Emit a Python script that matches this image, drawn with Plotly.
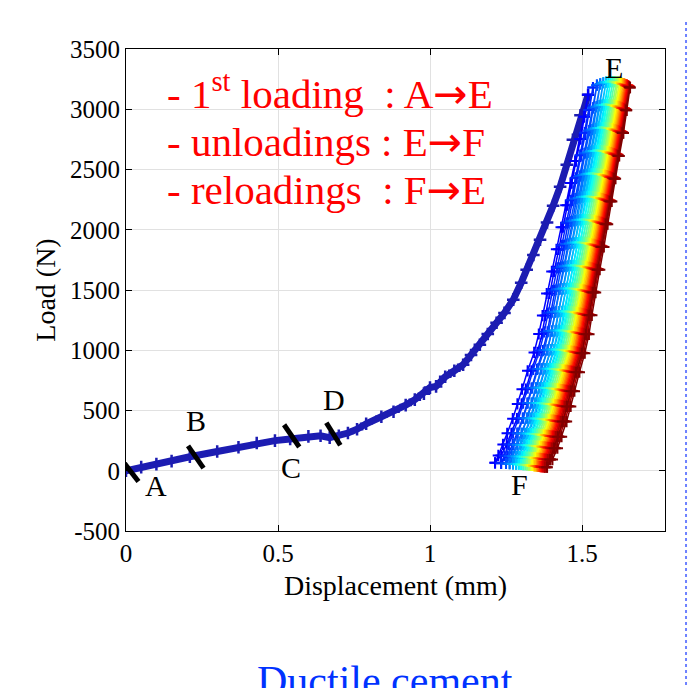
import plotly.graph_objects as go
from plotly.colors import sample_colorscale

# ---------------- data ----------------
# first loading curve (A -> E)
load_x = [0, 0.05, 0.1, 0.15, 0.21, 0.3, 0.37, 0.43, 0.49, 0.54, 0.6, 0.64, 0.67, 0.7, 0.73, 0.76, 0.79,
          0.84, 0.88, 0.92, 0.95, 0.98, 1.0, 1.02, 1.05, 1.08, 1.109, 1.135, 1.164, 1.19, 1.219, 1.245,
          1.274, 1.3, 1.318, 1.34, 1.362, 1.385, 1.405, 1.428, 1.45, 1.47, 1.495, 1.52]
load_y = [0, 30, 55, 80, 116, 160, 195, 230, 250, 263, 285, 290, 275, 290, 313, 345, 390,
          448, 490, 545, 590, 640, 690, 700, 780, 830, 880, 960, 1046, 1135, 1228, 1310,
          1420, 1560, 1668, 1790, 1917, 2060, 2200, 2357, 2540, 2747, 2950, 3120]

# unloading / reloading cycles (E -> F -> E)
cycle_top_x = [1.52, 1.536, 1.549, 1.56, 1.57, 1.579, 1.587, 1.594, 1.601, 1.607, 1.613, 1.618,
               1.623, 1.627, 1.631, 1.635, 1.639, 1.642, 1.645, 1.648, 1.651, 1.654, 1.656, 1.658]
cycle_bottom_x = [1.214, 1.234, 1.25, 1.262, 1.273, 1.283, 1.292, 1.300, 1.307, 1.314, 1.320, 1.326,
                  1.332, 1.337, 1.342, 1.347, 1.352, 1.356, 1.360, 1.364, 1.368, 1.373, 1.378, 1.385]
cycle_top_y = [3120, 3180, 3200, 3210, 3220, 3225, 3225, 3230, 3230, 3230, 3225, 3225,
               3220, 3220, 3215, 3210, 3210, 3205, 3200, 3200, 3195, 3190, 3185, 3180]
cycle_bottom_y = [66, 62, 60, 58, 56, 55, 54, 52, 50, 50, 48, 46,
                  45, 44, 42, 40, 40, 38, 36, 35, 34, 32, 30, 30]
# normalised shape of an unloading branch (height fraction, displacement fraction)
shape_h = [0, 0.02, 0.05, 0.08, 0.12, 0.16, 0.2, 0.25, 0.3, 0.35, 0.4, 0.46, 0.52, 0.58, 0.64,
           0.7, 0.76, 0.82, 0.88, 0.94, 1.0]
shape_f = [0, 0.035, 0.085, 0.13, 0.19, 0.24, 0.29, 0.35, 0.42, 0.47, 0.51, 0.555, 0.61, 0.66, 0.71,
           0.76, 0.81, 0.86, 0.91, 0.955, 1.0]
reload_shift = [0, 0.03, 0.04, 0.045, 0.045, 0.045, 0.04, 0.04, 0.035, 0.035, 0.03, 0.03, 0.025,
                0.025, 0.02, 0.02, 0.015, 0.01, 0.01, 0.005, 0]

# points marked on the loading curve: tick segment ends
mark_x0 = [-0.014, 0.204, 0.520, 0.659]
mark_y0 = [91, 207, 382, 398]
mark_x1 = [0.041, 0.255, 0.570, 0.705]
mark_y1 = [-89, 22, 197, 212]
label_text = ["A", "B", "C", "D", "E", "F"]
label_x = [0.099, 0.230, 0.543, 0.683, 1.604, 1.293]
label_y = [-125, 420, 30, 595, 3350, -118]

ARROW = "<span style='font-family:DejaVu Sans'>\u2192</span>"
legend_lines = ["- 1<sup>st</sup> loading  : A" + ARROW + "E",
                "- unloadings : E" + ARROW + "F",
                "- reloadings  : F" + ARROW + "E"]
legend_y = [3145, 2730, 2332]

x_ticks = [0, 0.5, 1, 1.5]
x_tick_text = ["0", "0.5", "1", "1.5"]
y_ticks = [-500, 0, 500, 1000, 1500, 2000, 2500, 3000, 3500]
y_tick_text = ["-500", "0", "500", "1000", "1500", "2000", "2500", "3000", "3500"]

# ---------------- figure ----------------
SERIF = "Liberation Serif, Times New Roman, serif"
jet = [[0, "rgb(0,0,128)"], [0.125, "rgb(0,0,255)"], [0.375, "rgb(0,255,255)"],
       [0.625, "rgb(255,255,0)"], [0.875, "rgb(255,0,0)"], [1, "rgb(128,0,0)"]]
n = len(cycle_top_x)
cols = sample_colorscale(jet, [0.125 + 0.875 * i / (n - 1) for i in range(n)])

fig = go.Figure()
fig.add_trace(go.Scatter(
    x=load_x, y=load_y, mode="lines+markers",
    line=dict(color="rgb(28,28,178)", width=7),
    marker=dict(symbol="cross-thin", size=9, line=dict(width=2.5, color="rgb(28,28,178)")),
    showlegend=False, hoverinfo="skip"))

for i in range(n):
    span = cycle_top_x[i] - cycle_bottom_x[i]
    dh = cycle_top_y[i] - cycle_bottom_y[i]
    down_x = [cycle_bottom_x[i] + f * span for f in reversed(shape_f)]
    down_y = [cycle_bottom_y[i] + h * dh for h in reversed(shape_h)]
    up_x = [cycle_bottom_x[i] + (f + s) * span for f, s in zip(shape_f, reload_shift)]
    up_y = [cycle_bottom_y[i] + h * dh for h in shape_h]
    fig.add_trace(go.Scatter(
        x=down_x + up_x, y=down_y + up_y, mode="lines+markers",
        line=dict(color=cols[i], width=1.5),
        marker=dict(symbol="cross-thin", size=8, line=dict(width=2, color=cols[i])),
        showlegend=False, hoverinfo="skip"))

for i in range(len(mark_x0)):
    fig.add_shape(type="line", x0=mark_x0[i], y0=mark_y0[i], x1=mark_x1[i], y1=mark_y1[i],
                  line=dict(color="black", width=5), layer="above")

for t, x, y in zip(label_text, label_x, label_y):
    fig.add_annotation(x=x, y=y, text=t, showarrow=False,
                       font=dict(family=SERIF, size=30, color="black"))

for t, y in zip(legend_lines, legend_y):
    fig.add_annotation(x=0.128, y=y, text=t, showarrow=False, xanchor="left", yanchor="middle",
                       font=dict(family=SERIF, size=41, color="red"))

fig.add_annotation(xref="paper", yref="paper", x=0.4805, y=-0.26, yanchor="top",
                   text="Ductile cement", showarrow=False,
                   font=dict(family=SERIF, size=42, color="rgb(0,50,255)"))

fig.add_shape(type="line", xref="paper", yref="paper", x0=1.039, x1=1.039, y0=1.056, y1=-0.33,
              line=dict(color="rgb(110,130,255)", width=2, dash="dot"))

axis_common = dict(showline=True, linecolor="black", linewidth=1, mirror="ticks",
                   ticks="inside", ticklen=6, tickcolor="black",
                   showgrid=True, gridcolor="rgb(225,225,225)", gridwidth=1, zeroline=False,
                   tickfont=dict(family=SERIF, size=25, color="black"))
fig.update_xaxes(range=[0, 1.773], tickvals=x_ticks, ticktext=x_tick_text,
                 title=dict(text="Displacement (mm)", font=dict(family=SERIF, size=28, color="black"),
                            standoff=9), **axis_common)
fig.update_yaxes(range=[-500, 3500], tickvals=y_ticks, ticktext=y_tick_text,
                 title=dict(text="Load (N)", font=dict(family=SERIF, size=28, color="black"),
                            standoff=6), **axis_common)

fig.update_layout(width=696, height=688, margin=dict(l=126, r=31, t=49, b=157),
                  paper_bgcolor="white", plot_bgcolor="white", showlegend=False)

fig.write_html("out.html")
